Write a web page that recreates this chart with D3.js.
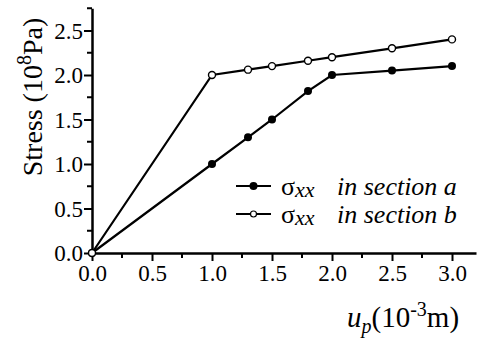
<!DOCTYPE html>
<html><head><meta charset="utf-8">
<script src="https://cdn.jsdelivr.net/npm/d3@7"></script>
<style>body{margin:0;background:#fff}svg{display:block}</style>
</head><body>
<script>
const xVals = [0, 1, 1.3, 1.5, 1.8, 2, 2.5, 3];
const sectionA = [0, 1.0, 1.3, 1.5, 1.82, 2.0, 2.05, 2.1];
const sectionB = [0, 2.0, 2.06, 2.1, 2.16, 2.2, 2.3, 2.4];
const xTicks = [0, 0.5, 1, 1.5, 2, 2.5, 3];
const yTicks = [0, 0.5, 1, 1.5, 2, 2.5];

const FONT = '"Liberation Serif","Times New Roman",serif';
const W = 477, H = 347;
const svg = d3.select("body").append("svg").attr("width", W).attr("height", H)
  .style("font-family", FONT);
const x = d3.scaleLinear().domain([0, 3.2]).range([92, 476]);
const y = d3.scaleLinear().domain([0, 2.75]).range([253, 8.25]);

// minor ticks
const xMinor = d3.range(0.25, 3.2, 0.5);
const yMinor = d3.range(0.25, 2.8, 0.5);
const g = svg.append("g");
g.selectAll(".xm").data(xMinor).enter().append("line")
  .attr("x1", d => x(d)).attr("x2", d => x(d)).attr("y1", 253).attr("y2", 258)
  .attr("stroke", "#000").attr("stroke-width", 2);
g.selectAll(".ym").data(yMinor).enter().append("line")
  .attr("y1", d => y(d)).attr("y2", d => y(d)).attr("x1", 92).attr("x2", 87)
  .attr("stroke", "#000").attr("stroke-width", 2);

const xAxis = svg.append("g").attr("transform", "translate(0,253)")
  .call(d3.axisBottom(x).tickValues(xTicks).tickFormat(d3.format(".1f")).tickSize(8).tickSizeOuter(0));
const yAxis = svg.append("g").attr("transform", "translate(92,0)")
  .call(d3.axisLeft(y).tickValues(yTicks).tickFormat(d3.format(".1f")).tickSize(8).tickSizeOuter(0));
[xAxis, yAxis].forEach(a => {
  a.attr("font-family", null).attr("font-size", null);
  a.select(".domain").attr("stroke", "#000").attr("stroke-width", 2.5);
  a.selectAll(".tick line").attr("stroke", "#000").attr("stroke-width", 2);
  a.selectAll(".tick text").style("font-size", "23px").style("font-family", FONT).attr("fill", "#000");
});
xAxis.selectAll(".tick text").attr("dy", "0.71em").attr("y", 12);
yAxis.selectAll(".tick text").attr("x", -9).attr("dy", "0.34em");

const line = d3.line().x(d => x(d[0])).y(d => y(d[1]));
const dataA = xVals.map((v, i) => [v, sectionA[i]]);
const dataB = xVals.map((v, i) => [v, sectionB[i]]);
[dataA, dataB].forEach(dd => svg.append("path").datum(dd).attr("d", line)
  .attr("fill", "none").attr("stroke", "#000").attr("stroke-width", 2.2));
svg.selectAll(".ma").data(dataA).enter().append("circle")
  .attr("cx", d => x(d[0])).attr("cy", d => y(d[1])).attr("r", 4).attr("fill", "#000");
svg.selectAll(".mb").data(dataB).enter().append("circle")
  .attr("cx", d => x(d[0])).attr("cy", d => y(d[1])).attr("r", 3.5)
  .attr("fill", "#fff").attr("stroke", "#000").attr("stroke-width", 1.4);

// legend
const leg = [{ly: 186, fill: "#000", r: 4, s: "a"}, {ly: 214, fill: "#fff", r: 3, s: "b"}];
leg.forEach(L => {
  svg.append("line").attr("x1", 236).attr("x2", 271).attr("y1", L.ly).attr("y2", L.ly)
    .attr("stroke", "#000").attr("stroke-width", 2.2);
  svg.append("circle").attr("cx", 253.5).attr("cy", L.ly).attr("r", L.r).attr("fill", L.fill)
    .attr("stroke", "#000").attr("stroke-width", L.fill === "#fff" ? 1.2 : 0);
  const t = svg.append("text").attr("y", L.ly + 9).style("font-size", "26px");
  t.append("tspan").attr("x", 281).text("σ");
  t.append("tspan").attr("font-style", "italic").style("font-size", "22px").attr("dy", 2).text("xx");
  t.append("tspan").attr("font-style", "italic").attr("x", 337).attr("dy", -2).text("in section " + L.s);
});

// axis titles
const yl = svg.append("text").attr("transform", "translate(42,97) rotate(-90)")
  .attr("text-anchor", "middle").style("font-size", "28px");
yl.append("tspan").text("Stress (10");
yl.append("tspan").style("font-size", "20px").attr("dy", -11).text("8");
yl.append("tspan").attr("dy", 11).text("Pa)");

const xl = svg.append("text").attr("x", 347).attr("y", 327).style("font-size", "29px");
xl.append("tspan").attr("font-style", "italic").text("u");
xl.append("tspan").attr("font-style", "italic").style("font-size", "20px").attr("dy", 6).text("p");
xl.append("tspan").attr("dy", -6).text("(10");
xl.append("tspan").style("font-size", "20px").attr("dy", -11).text("-3");
xl.append("tspan").attr("dy", 11).text("m)");
</script>
</body></html>
